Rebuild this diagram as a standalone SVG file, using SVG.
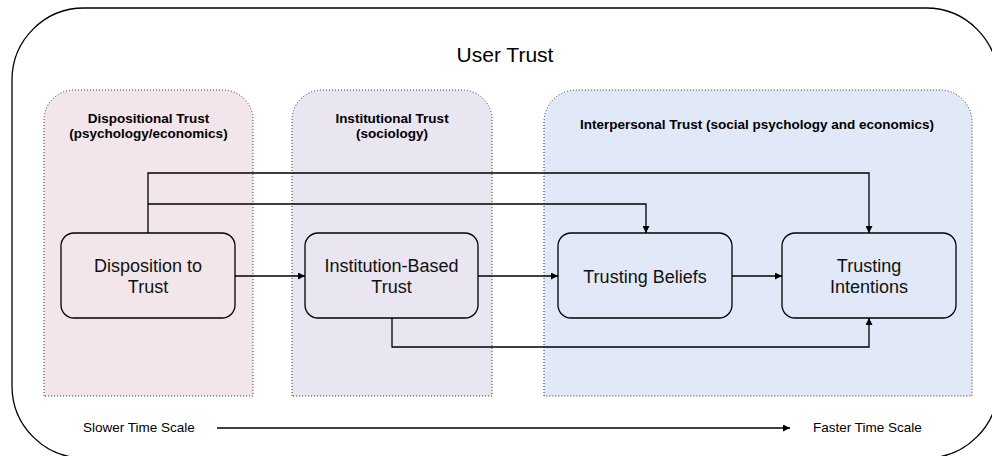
<svg xmlns="http://www.w3.org/2000/svg" width="992" height="456" viewBox="0 0 992 456">
<defs>
<marker id="ah" viewBox="0 0 10 10" refX="10" refY="5" markerWidth="7" markerHeight="7" markerUnits="userSpaceOnUse" orient="auto">
<path d="M0,0 L10,5 L0,10 z" fill="#000"/>
</marker>
<style>
.outer{fill:#fff;stroke:#000;stroke-width:1.3}
.panel{stroke:#333;stroke-width:1;stroke-dasharray:1 2}
.node{fill:none;stroke:#000;stroke-width:1.3}
.edge{fill:none;stroke:#000;stroke-width:1.3;marker-end:url(#ah)}
.ptitle{font-family:"Liberation Sans",Arial,sans-serif;font-weight:bold;font-size:13.5px;fill:#000;text-anchor:middle}
.ntext{font-family:"Liberation Sans",Arial,sans-serif;font-size:18px;fill:#111;text-anchor:middle}
.small{font-family:"Liberation Sans",Arial,sans-serif;font-size:13.5px;fill:#000}
</style>
</defs>
<rect width="992" height="456" fill="#fff"/>
<g id="user-trust">
<rect class="outer" x="12" y="8" width="986" height="450" rx="72" ry="72"/>
<text x="505" y="62" font-family="Liberation Sans, Arial, sans-serif" font-size="21" text-anchor="middle" fill="#000">User Trust</text>
</g>
<g id="panel-dispositional">
<path class="panel" fill="#f3e6ea" d="M44,396 V120 A30,30 0 0 1 74,90 H223 A30,30 0 0 1 253,120 V396 Z"/>
<text class="ptitle" x="148.5" y="123">Dispositional Trust</text>
<text class="ptitle" x="148.5" y="138">(psychology/economics)</text>
</g>
<g id="panel-institutional">
<path class="panel" fill="#e9e5f1" d="M292,396 V120 A30,30 0 0 1 322,90 H462 A30,30 0 0 1 492,120 V396 Z"/>
<text class="ptitle" x="392" y="123">Institutional Trust</text>
<text class="ptitle" x="392" y="138">(sociology)</text>
</g>
<g id="panel-interpersonal">
<path class="panel" fill="#e1e9f9" d="M544,396 V122 A32,32 0 0 1 576,90 H940 A32,32 0 0 1 972,122 V396 Z"/>
<text class="ptitle" x="757" y="129">Interpersonal Trust (social psychology and economics)</text>
</g>
<g id="connectors">
<path class="edge" d="M148,233 V173 H869 V233"/>
<path class="edge" d="M148,204 H646 V233"/>
<path class="edge" d="M235,276 H305"/>
<path class="edge" d="M478,276 H558"/>
<path class="edge" d="M732,276 H782"/>
<path class="edge" d="M392,318 V347 H869 V318"/>
<path class="edge" d="M217,428 H790"/>
</g>
<g id="node-disposition">
<rect class="node" x="61" y="233" width="174" height="85" rx="13"/>
<text class="ntext" x="148" y="272">Disposition to</text>
<text class="ntext" x="148" y="293">Trust</text>
</g>
<g id="node-institution">
<rect class="node" x="305" y="233" width="173" height="85" rx="13"/>
<text class="ntext" x="391.5" y="272">Institution-Based</text>
<text class="ntext" x="391.5" y="293">Trust</text>
</g>
<g id="node-beliefs">
<rect class="node" x="558" y="233" width="174" height="85" rx="13"/>
<text class="ntext" x="645" y="282.5">Trusting Beliefs</text>
</g>
<g id="node-intentions">
<rect class="node" x="782" y="233" width="174" height="85" rx="13"/>
<text class="ntext" x="869" y="272">Trusting</text>
<text class="ntext" x="869" y="293">Intentions</text>
</g>
<g id="time-scale">
<text class="small" x="83" y="432">Slower Time Scale</text>
<text class="small" x="813" y="432">Faster Time Scale</text>
</g>
</svg>
